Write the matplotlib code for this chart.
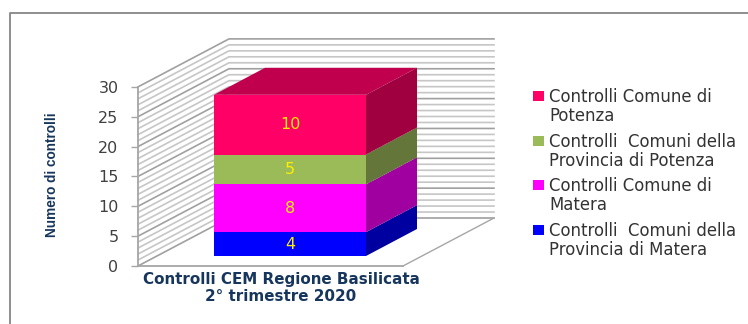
import matplotlib

matplotlib.use("Agg")
import matplotlib.pyplot as plt
from matplotlib.patches import Polygon, Rectangle

# stacked from the bottom up
series = [
    "Controlli  Comuni della\nProvincia di Matera",
    "Controlli Comune di\nMatera",
    "Controlli  Comuni della\nProvincia di Potenza",
    "Controlli Comune di\nPotenza",
]
values = [4, 8, 5, 10]
front_colors = ["#0000ff", "#ff00ff", "#9bbb59", "#ff0066"]
side_colors = ["#0000a0", "#a000a0", "#64763a", "#a00040"]
top_color = "#c0004d"
category = "Controlli CEM Regione Basilicata\n2° trimestre 2020"
y_ticks = [0, 5, 10, 15, 20, 25, 30]

NAVY = "#17365d"
PX = 5.97  # pixels per unit on the value axis


def row(pixel_y):
    # value-axis coordinate of a pixel row
    return (266 - pixel_y) / PX


fig = plt.figure(figsize=(7.48, 3.24), dpi=100)
ax = fig.add_axes([0, 0, 1, 1])
ax.set_xlim(0, 748)
ax.set_ylim(row(324), row(0))

# oblique depth of the box and of the bar
wall_dx, wall_dy = 91, 48 / PX
bar_dx, bar_dy = 51, 27 / PX
bar_x, bar_w = 214, 152
bar_base = 10 / PX
floor_x0, floor_x1 = 138, 403

# chart frame, runs off the right and bottom edges
ax.plot([10, 10, 748], [row(330), row(13), row(13)], color="#868686", lw=1.3)

# gridlines on the side wall and back wall
for v in range(0, 31):
    major = v % 5 == 0
    col = "#a0a0a0" if major else "#c6c6c6"
    ax.plot(
        [floor_x0, floor_x0 + wall_dx, floor_x1 + wall_dx],
        [v, v + wall_dy, v + wall_dy],
        color=col,
        lw=1.2,
        zorder=1,
    )

# floor edges
ax.plot(
    [floor_x1, floor_x1 + wall_dx], [0, wall_dy], color="#a6a6a6", lw=1.0, zorder=1
)
ax.plot([floor_x0, floor_x1], [0, 0], color="#a6a6a6", lw=1.3, zorder=1)

# stacked bar: front faces, side faces, lid
bottom = bar_base
for i in range(len(values)):
    ax.bar(
        bar_x,
        values[i],
        width=bar_w,
        bottom=bottom,
        align="edge",
        color=front_colors[i],
        zorder=3,
    )
    x1 = bar_x + bar_w
    ax.add_patch(
        Polygon(
            [
                (x1, bottom),
                (x1 + bar_dx, bottom + bar_dy),
                (x1 + bar_dx, bottom + values[i] + bar_dy),
                (x1, bottom + values[i]),
            ],
            closed=True,
            facecolor=side_colors[i],
            edgecolor="none",
            zorder=3,
        )
    )
    ax.text(
        bar_x + bar_w / 2,
        bottom + values[i] / 2,
        str(values[i]),
        color="#ffee00",
        fontsize=11.5,
        ha="center",
        va="center",
        zorder=4,
    )
    bottom += values[i]

ax.add_patch(
    Polygon(
        [
            (bar_x, bottom),
            (bar_x + bar_w, bottom),
            (bar_x + bar_w + bar_dx, bottom + bar_dy),
            (bar_x + bar_dx, bottom + bar_dy),
        ],
        closed=True,
        facecolor=top_color,
        edgecolor="none",
        zorder=3,
    )
)

# value axis sits on the front edge of the side wall
for side in ["top", "right", "bottom"]:
    ax.spines[side].set_visible(False)
ax.spines["left"].set_position(("data", floor_x0))
ax.spines["left"].set_bounds(0, 30)
ax.spines["left"].set_color("#a6a6a6")
ax.spines["left"].set_linewidth(1.3)
ax.set_xticks([])
ax.set_yticks(y_ticks)
ax.tick_params(
    axis="y", length=5, width=1.0, color="#a6a6a6", pad=9, labelsize=11.5,
    labelcolor="#404040",
)

ax.text(
    52,
    row(175),
    "Numero di controlli",
    rotation=90,
    ha="center",
    va="center",
    color=NAVY,
    fontsize=9.8,
    fontweight="bold",
    family=["Liberation Sans Narrow", "Liberation Sans"],
)
ax.text(
    281,
    row(288),
    category,
    ha="center",
    va="center",
    color=NAVY,
    fontsize=10.9,
    fontweight="bold",
    linespacing=1.12,
)

# legend, top entry first, swatch level with the first line of each label
legend_rows = [96, 141, 185, 230]
for name, col, y in zip(series[::-1], front_colors[::-1], legend_rows):
    ax.add_patch(
        Rectangle(
            (533, row(y + 5)), 11, 10 / PX, facecolor=col, edgecolor="none", zorder=3
        )
    )
    ax.text(
        549,
        row(y - 8),
        name,
        ha="left",
        va="top",
        color="#333333",
        fontsize=11.9,
        linespacing=1.08,
    )

plt.savefig("out.png", dpi=100)
